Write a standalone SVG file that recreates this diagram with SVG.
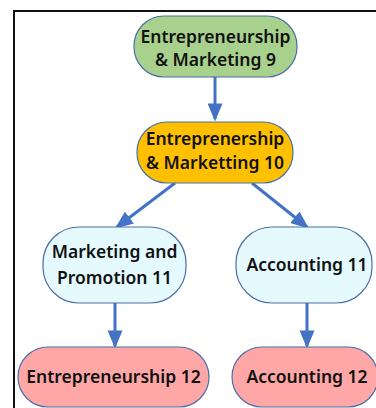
<svg xmlns="http://www.w3.org/2000/svg" width="376" height="408" viewBox="0 0 376 408">
<defs>
<style>
.n{stroke:#4A6FA8;stroke-width:1.2}
.t{font-family:"Noto Sans","Liberation Sans",sans-serif;font-weight:600;font-size:17.5px;fill:#111;text-anchor:middle}
.c{stroke:#4472C4;stroke-width:3;fill:none}
</style>
<marker id="ah" markerWidth="6" markerHeight="5" refX="5.2" refY="2.5" orient="auto" markerUnits="strokeWidth">
<path d="M0,0 L6,2.5 L0,5 Z" fill="#4472C4"/>
</marker>
</defs>
<rect width="376" height="408" fill="#fff"/>
<path d="M14,408 V11 H376" fill="none" stroke="#111" stroke-width="2"/>
<g id="connectors">
<line class="c" x1="215" y1="77" x2="215" y2="119" marker-end="url(#ah)"/>
<line class="c" x1="175" y1="183" x2="117" y2="227" marker-end="url(#ah)"/>
<line class="c" x1="252" y1="183" x2="307" y2="227" marker-end="url(#ah)"/>
<line class="c" x1="115" y1="303" x2="115" y2="346" marker-end="url(#ah)"/>
<line class="c" x1="307" y1="303" x2="307" y2="346" marker-end="url(#ah)"/>
</g>
<g id="n1">
<rect class="n" x="134" y="16" width="163" height="61" rx="30" fill="#A9D18E"/>
<text class="t" x="215.5" y="43">Entrepreneurship</text>
<text class="t" x="215.5" y="66">&amp; Marketing 9</text>
</g>
<g id="n2">
<rect class="n" x="137" y="122" width="156" height="61" rx="30" fill="#FFC000"/>
<text class="t" x="215" y="145">Entreprenership</text>
<text class="t" x="215" y="169">&amp; Marketting 10</text>
</g>
<g id="n3">
<rect class="n" x="43" y="227" width="143" height="76" rx="36" fill="#E5FAFF"/>
<text class="t" x="114.5" y="258">Marketing and</text>
<text class="t" x="114.5" y="284">Promotion 11</text>
</g>
<g id="n4">
<rect class="n" x="236" y="227" width="136" height="76" rx="36" fill="#E5FAFF"/>
<text class="t" x="307" y="271">Accounting 11</text>
</g>
<g id="n5">
<rect class="n" x="18" y="347" width="191" height="60" rx="30" fill="#FFA7A7"/>
<text class="t" x="113.5" y="383">Entrepreneurship 12</text>
</g>
<g id="n6">
<rect class="n" x="232" y="347" width="146" height="60" rx="30" fill="#FFA7A7"/>
<text class="t" x="307" y="383">Accounting 12</text>
</g>
</svg>
